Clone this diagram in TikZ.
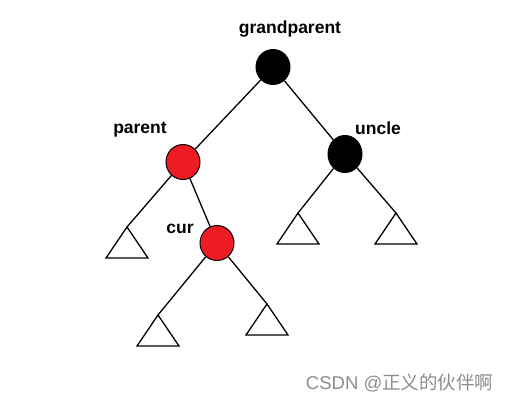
\documentclass[tikz,border=0pt]{standalone}
\usepackage{fontspec}
\setmainfont{Liberation Sans}
\newfontfamily\cjkfont{Noto Sans CJK SC}
\usetikzlibrary{shapes.geometric}
\definecolor{rbred}{RGB}{237,28,36}

\begin{document}
\begin{tikzpicture}[x=1pt, y=-1pt, line width=1.3pt,
    rbnode/.style={ellipse, draw, line width=1pt, minimum width=34pt, minimum height=35pt, inner sep=0pt},
    lbl/.style={font=\fontsize{17.5}{20}\selectfont\bfseries}]
    \useasboundingbox (0,0) rectangle (514,404);

    % tree nodes
    \node[rbnode, fill=black] (gp) at (273, 67) {};
    \node[rbnode, fill=rbred] (p) at (183, 162) {};
    \node[rbnode, fill=black, minimum height=37pt] (u) at (345, 154) {};
    \node[rbnode, fill=rbred] (c) at (217, 243) {};

    % labels
    \node[lbl] (gplbl) at (290, 29) {grandparent};
    \node[lbl] (plbl) at (140, 130) {parent};
    \node[lbl] (ulbl) at (378, 128) {uncle};
    \node[lbl] (clbl) at (180, 229) {cur};

    % subtrees
    \foreach \n/\x/\y in {pl/127/227, ul/298/213, ur/396/213, cl/158/315, cr/267/304} {
        \coordinate (\n) at (\x, \y);
        \draw[line width=1.3pt, line join=miter] (\n) -- ++(-21, 31) -- ++(42, 0) -- cycle;
    }

    % edges
    \draw (gp) -- (p);
    \draw (gp) -- (u);
    \draw (p) -- (pl);
    \draw (p) -- (c);
    \draw (u) -- (ul);
    \draw (u) -- (ur);
    \draw (c) -- (cl);
    \draw (c) -- (cr);

    \node[text=black!45, font=\fontsize{18.5}{20}\selectfont, anchor=west] (mark) at (302, 383) {CSDN @{\cjkfont 正义的伙伴啊}};
\end{tikzpicture}
\end{document}
